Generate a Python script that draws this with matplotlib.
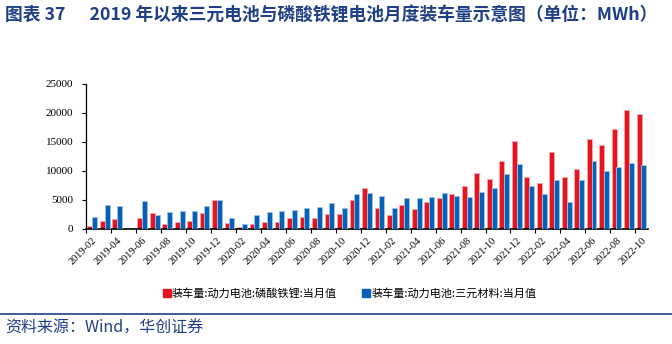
import numpy as np
import matplotlib.pyplot as plt
from matplotlib.lines import Line2D

plt.rcParams['font.family'] = ['Noto Sans CJK SC', 'DejaVu Sans']

# monthly data, MWh (2019-05 has no data)
months = ['2019-02', '2019-03', '2019-04', '2019-05', '2019-06', '2019-07', '2019-08', '2019-09',
          '2019-10', '2019-11', '2019-12', '2020-01', '2020-02', '2020-03', '2020-04', '2020-05',
          '2020-06', '2020-07', '2020-08', '2020-09', '2020-10', '2020-11', '2020-12', '2021-01',
          '2021-02', '2021-03', '2021-04', '2021-05', '2021-06', '2021-07', '2021-08', '2021-09',
          '2021-10', '2021-11', '2021-12', '2022-01', '2022-02', '2022-03', '2022-04', '2022-05',
          '2022-06', '2022-07', '2022-08', '2022-09', '2022-10']
lfp = [500, 1300, 1700, np.nan, 1900, 2700, 800, 1200,
       1300, 2700, 4900, 1000, 300, 800, 1200, 1100,
       1900, 1950, 1800, 2500, 2600, 4900, 7050, 3500,
       2450, 4100, 3450, 4700, 5300, 6000, 7300, 9700,
       8600, 11650, 15200, 9000, 7900, 13300, 9000, 10400,
       15500, 14400, 17300, 20450, 19800]
ncm = [2000, 4100, 4000, np.nan, 4800, 2300, 2900, 3100,
       3100, 3900, 5000, 1800, 750, 2400, 2850, 3000,
       3200, 3500, 3700, 4400, 3650, 6000, 6100, 5600,
       3500, 5300, 5350, 5400, 6100, 5600, 5500, 6300,
       7100, 9400, 11200, 7450, 6000, 8400, 4550, 8450,
       11700, 10000, 10700, 11400, 11000]

red = '#e5141f'
blue = '#0560b6'
navy = '#1f3f86'
serif = 'Liberation Serif'

fig = plt.figure(figsize=(6.72, 3.44), dpi=100)
ax = fig.add_axes([0.128, 0.335, 0.836, 0.421])

x = np.arange(len(months))
w = 0.4
ax.bar(x - 0.19, lfp, w, color=red, edgecolor='#f6a8ab', linewidth=0.6, zorder=2)
ax.bar(x + 0.19, ncm, w, color=blue, edgecolor='#9cc3ea', linewidth=0.6, zorder=3)

ax.set_xlim(-0.5, len(months) - 0.5)
ax.set_ylim(0, 25000)
ax.set_yticks(np.arange(0, 25001, 5000))
ax.set_yticklabels([str(v) for v in range(0, 25001, 5000)], fontfamily=serif, fontsize=8)
ax.tick_params(axis='y', length=3, width=0.8, pad=6)

ax.set_xticks(x[::2])
ax.set_xticklabels(months[::2], rotation=45, ha='right', rotation_mode='anchor',
                   fontfamily=serif, fontsize=7.5)
ax.tick_params(axis='x', length=0, pad=5)
ax.set_xticks(np.arange(-0.5, len(months), 2), minor=True)
ax.tick_params(axis='x', which='minor', length=3, width=0.8)

for s in ['top', 'right']:
    ax.spines[s].set_visible(False)
ax.spines['left'].set_linewidth(0.9)
ax.spines['bottom'].set_linewidth(1.2)

handles = [Line2D([], [], marker='s', linestyle='', color=red, markersize=6),
           Line2D([], [], marker='s', linestyle='', color=blue, markersize=6)]
fig.legend(handles, ['装车量:动力电池:磷酸铁锂:当月值', '装车量:动力电池:三元材料:当月值'],
           loc='center', bbox_to_anchor=(0.52, 0.148), ncol=2, frameon=False,
           fontsize=8, handletextpad=0.1, columnspacing=2.2, handlelength=0.8)

fig.text(0.008, 0.955, '图表 37      2019 年以来三元电池与磷酸铁锂电池月度装车量示意图（单位：MWh）',
         fontsize=12.8, fontweight='bold', color=navy, va='center', ha='left')

fig.add_artist(Line2D([0, 1], [0.087, 0.087], color=navy, linewidth=1.2))
fig.text(0.008, 0.045, '资料来源：Wind，华创证券', fontsize=11.5, style='italic',
         color=navy, va='center', ha='left')

fig.savefig('out.png', dpi=100)
